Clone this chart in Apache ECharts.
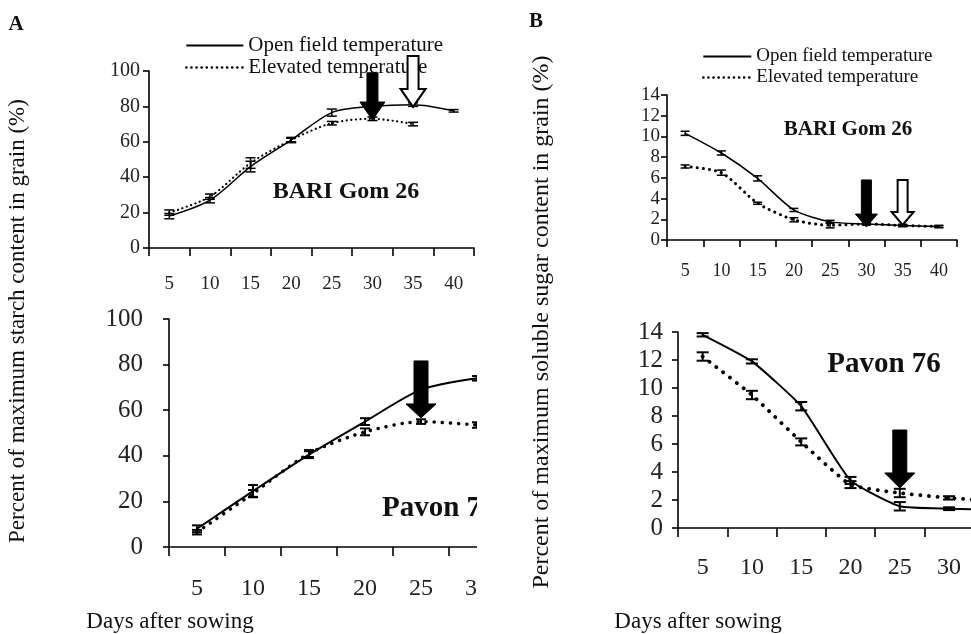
<!DOCTYPE html>
<html><head><meta charset="utf-8">
<script src="https://cdn.jsdelivr.net/npm/echarts@6/dist/echarts.min.js"></script>
<style>html,body{margin:0;padding:0;background:#fff}#c{width:971px;height:634px}</style>
</head><body><div id="c"></div>
<script>
// ---- Data ----
const seriesNames = ['Open field temperature', 'Elevated temperature'];

const daysBariStarch = ['5','10','15','20','25','30','35','40'];
const starchBariOpen = [18, 27, 46, 61, 76.5, 80, 81, 77.5];
const starchBariOpenErr = [1.5, 1.5, 3, 1.5, 2, 1, 1, 0.7];
const starchBariElev = [20, 29, 48, 61, 70.5, 73, 70, null];
const starchBariElevErr = [1.5, 1.5, 3, 1, 1, 1, 1, null];

const daysPavonStarch = ['5','10','15','20','25','30'];
const starchPavonOpen = [8, 24.5, 40.5, 55, 69, 74];
const starchPavonOpenErr = [1.5, 2.7, 1.5, 1.5, null, 1];
const starchPavonElev = [6.5, 23.5, 41, 50.5, 55, 53.5];
const starchPavonElevErr = [1, 1.5, 1.5, 1.5, 1, 1.2];

const daysBariSugar = ['5','10','15','20','25','30','35','40'];
const sugarBariOpen = [10.3, 8.4, 5.95, 2.9, 1.75, 1.55, 1.4, 1.3];
const sugarBariOpenErr = [0.2, 0.2, 0.25, 0.15, 0.15, 0.1, 0.1, 0.1];
const sugarBariElev = [7.1, 6.5, 3.55, 1.95, 1.42, 1.55, 1.4, 1.3];
const sugarBariElevErr = [0.15, 0.25, 0.1, 0.2, 0.25, 0.1, 0.1, 0.1];

const daysPavonSugar = ['5','10','15','20','25','30','35'];
const sugarPavonOpen = [13.8, 11.9, 8.7, 3.4, 1.55, 1.38, 1.3];
const sugarPavonOpenErr = [0.12, 0.15, 0.3, 0.25, 0.3, 0.1, null];
const sugarPavonElev = [12.25, 9.5, 6.15, 3.1, 2.5, 2.15, 1.9];
const sugarPavonElevErr = [0.3, 0.3, 0.25, 0.25, 0.3, 0.12, null];

// maturity arrows: [day, value at top of arrow, value at tip, filled]
const arrowsBariStarch = [['30', 99, 72.3, true], ['35', 108.5, 79.7, false]];
const arrowsPavonStarch = [['25', 81.6, 56.6, true]];
const arrowsBariSugar = [['30', 5.8, 1.25, true], ['35', 5.8, 1.45, false]];
const arrowsPavonSugar = [['25', 7.0, 2.86, true]];

const panelLabels = ['BARI Gom 26', 'Pavon 76', 'BARI Gom 26', 'Pavon 76'];
const yTitleA = 'Percent of maximum starch content in grain (%)';
const yTitleB = 'Percent of maximum soluble sugar content in grain (%)';
const xTitle = 'Days after sowing';

// ---- Helpers ----
const FONT = '"Liberation Serif", "Times New Roman", serif';

function errData(vals, errs) {
  const out = [];
  vals.forEach((v, i) => { if (v != null && errs[i] != null) out.push([i, v - errs[i], v + errs[i]]); });
  return out;
}
function errSeries(idx, vals, errs, capW, lw) {
  return {
    type: 'custom', xAxisIndex: idx, yAxisIndex: idx, z: 5, silent: true, clip: false,
    data: errData(vals, errs),
    renderItem: function (params, api) {
      const x = api.value(0);
      const lo = api.coord([x, api.value(1)]);
      const hi = api.coord([x, api.value(2)]);
      const h = capW / 2;
      const st = { stroke: '#000', lineWidth: lw };
      return { type: 'group', children: [
        { type: 'line', shape: { x1: lo[0], y1: lo[1], x2: hi[0], y2: hi[1] }, style: st },
        { type: 'line', shape: { x1: lo[0] - h, y1: lo[1], x2: lo[0] + h, y2: lo[1] }, style: st },
        { type: 'line', shape: { x1: hi[0] - h, y1: hi[1], x2: hi[0] + h, y2: hi[1] }, style: st }
      ]};
    }
  };
}
function arrowSeries(idx, cats, arrows, sw, hw, hh) {
  return {
    type: 'custom', xAxisIndex: idx, yAxisIndex: idx, z: 10, silent: true, clip: false,
    data: arrows.map(a => [cats.indexOf(a[0]), a[1], a[2], a[3] ? 1 : 0]),
    renderItem: function (params, api) {
      const x = api.value(0);
      const top = api.coord([x, api.value(1)]);
      const tip = api.coord([x, api.value(2)]);
      const cx = top[0], yt = top[1], yb = tip[1];
      const filled = api.value(3) === 1;
      const pts = [
        [cx - sw / 2, yt], [cx + sw / 2, yt], [cx + sw / 2, yb - hh], [cx + hw / 2, yb - hh],
        [cx, yb], [cx - hw / 2, yb - hh], [cx - sw / 2, yb - hh]
      ];
      return { type: 'polygon', shape: { points: pts },
        style: { fill: filled ? '#000' : '#fff', stroke: '#000', lineWidth: filled ? 1 : 2 } };
    }
  };
}
function lineSer(idx, name, vals, dotted, w, dash, sm) {
  return {
    type: 'line', name: name, xAxisIndex: idx, yAxisIndex: idx, data: vals,
    smooth: sm, symbol: 'none', z: 3, silent: true,
    itemStyle: { color: '#000' },
    lineStyle: dotted ? { color: '#000', width: w, type: dash, cap: 'round' } : { color: '#000', width: w }
  };
}
function xAx(idx, cats, fs, margin, tickLen) {
  return {
    type: 'category', gridIndex: idx, data: cats, boundaryGap: true,
    axisLine: { lineStyle: { color: '#000', width: 1.6 } },
    axisTick: { show: true, length: tickLen, lineStyle: { color: '#000', width: 1.6 } },
    axisLabel: { color: '#222', fontFamily: FONT, fontSize: fs, margin: margin },
    splitLine: { show: false }
  };
}
function yAx(idx, max, interval, fs, margin) {
  return {
    type: 'value', gridIndex: idx, min: 0, max: max, interval: interval,
    axisLine: { show: true, lineStyle: { color: '#000', width: 1.6 } },
    axisTick: { show: true, length: 6, lineStyle: { color: '#000', width: 1.6 } },
    axisLabel: { color: '#222', fontFamily: FONT, fontSize: fs, margin: margin },
    splitLine: { show: false }
  };
}
function txt(x, y, s, fs, bold, extra) {
  return Object.assign({ type: 'text', x: x, y: y, z: 50,
    style: { text: s, fontFamily: FONT, fontSize: fs, fontWeight: bold ? 'bold' : 'normal', fill: '#111',
      align: 'center', verticalAlign: 'middle' } }, extra || {});
}
function legendData() {
  return [
    { name: seriesNames[0], lineStyle: { color: '#000', width: 1.8, type: 'solid' } },
    { name: seriesNames[1], lineStyle: { color: '#000', width: 2.6, type: [0.1, 5], cap: 'round' } }
  ];
}

const option = {
  backgroundColor: '#fff',
  animation: false,
  grid: [
    { left: 149, top: 71, width: 325, height: 177, outerBoundsMode: 'none', containLabel: false },
    { left: 169, top: 319, width: 336, height: 228, outerBoundsMode: 'none', containLabel: false },
    { left: 667, top: 95, width: 290, height: 145, outerBoundsMode: 'none', containLabel: false },
    { left: 678, top: 332, width: 345, height: 196, outerBoundsMode: 'none', containLabel: false }
  ],
  xAxis: [
    xAx(0, daysBariStarch, 19, 27, 8),
    xAx(1, daysPavonStarch, 24, 30, 9),
    xAx(2, daysBariSugar, 18, 22, 7),
    xAx(3, daysPavonSugar, 24, 28, 9)
  ],
  yAxis: [
    yAx(0, 100, 20, 20, 9),
    yAx(1, 100, 20, 25, 26),
    yAx(2, 14, 2, 19, 7),
    yAx(3, 14, 2, 25, 15)
  ],
  legend: [
    { data: legendData(), orient: 'vertical', left: 185, top: 35, padding: 0, itemWidth: 57, itemHeight: 16, itemGap: 1,
      itemStyle: { opacity: 0 },
      textStyle: { fontFamily: FONT, fontSize: 21, color: '#111' }, selectedMode: false },
    { data: legendData(), orient: 'vertical', left: 702, top: 47, padding: 0, itemWidth: 48, itemHeight: 16, itemGap: 2,
      itemStyle: { opacity: 0 },
      textStyle: { fontFamily: FONT, fontSize: 19, color: '#111' }, selectedMode: false }
  ],
  series: [
    lineSer(0, seriesNames[0], starchBariOpen, false, 1.5, null, 0.3),
    lineSer(0, seriesNames[1], starchBariElev, true, 2.2, [0.1, 4.5], 0.3),
    errSeries(0, starchBariOpen, starchBariOpenErr, 10, 1.5),
    errSeries(0, starchBariElev, starchBariElevErr, 10, 1.5),
    arrowSeries(0, daysBariStarch, arrowsBariStarch, 11, 25, 18),

    lineSer(1, seriesNames[0], starchPavonOpen, false, 2, null, 0.25),
    lineSer(1, seriesNames[1], starchPavonElev, true, 3.5, [0.1, 8], 0.25),
    errSeries(1, starchPavonOpen, starchPavonOpenErr, 10, 2),
    errSeries(1, starchPavonElev, starchPavonElevErr, 10, 2),
    arrowSeries(1, daysPavonStarch, arrowsPavonStarch, 14, 30, 14),

    lineSer(2, seriesNames[0], sugarBariOpen, false, 1.5, null, 0.25),
    lineSer(2, seriesNames[1], sugarBariElev, true, 3, [0.1, 6], 0.25),
    errSeries(2, sugarBariOpen, sugarBariOpenErr, 9, 1.5),
    errSeries(2, sugarBariElev, sugarBariElevErr, 9, 1.5),
    arrowSeries(2, daysBariSugar, arrowsBariSugar, 10, 22, 13),

    lineSer(3, seriesNames[0], sugarPavonOpen, false, 2, null, 0.15),
    lineSer(3, seriesNames[1], sugarPavonElev, true, 3.8, [0.1, 8.5], 0.15),
    errSeries(3, sugarPavonOpen, sugarPavonOpenErr, 12, 2),
    errSeries(3, sugarPavonElev, sugarPavonElevErr, 12, 2),
    arrowSeries(3, daysPavonSugar, arrowsPavonSugar, 14, 30, 15)
  ],
  graphic: [
    txt(346, 192, panelLabels[0], 24, true),
    { type: 'text', x: 382, y: 509, z: 50,
      style: { text: panelLabels[1], fontFamily: FONT, fontSize: 29, fontWeight: 'bold', fill: '#111', align: 'left', verticalAlign: 'middle' } },
    txt(848, 130, panelLabels[2], 21, true),
    txt(884, 365, panelLabels[3], 29, true),
    // mask cropping panel A bottom at the figure edge
    { type: 'rect', left: 477, top: 290, z: 100, shape: { width: 36, height: 344 }, style: { fill: '#fff' } },
    txt(16, 25, 'A', 21, true, { z: 110 }),
    txt(536, 22, 'B', 21, true, { z: 110 }),
    txt(18, 321, yTitleA, 23, false, { rotation: Math.PI / 2, z: 110 }),
    txt(542, 322, yTitleB, 24, false, { rotation: Math.PI / 2, z: 110 }),
    txt(170, 622, xTitle, 23, false, { z: 110 }),
    txt(698, 622, xTitle, 23, false, { z: 110 })
  ]
};

const chart = echarts.init(document.getElementById('c'), null, { renderer: 'canvas' });
chart.setOption(option);
</script>
</body></html>
